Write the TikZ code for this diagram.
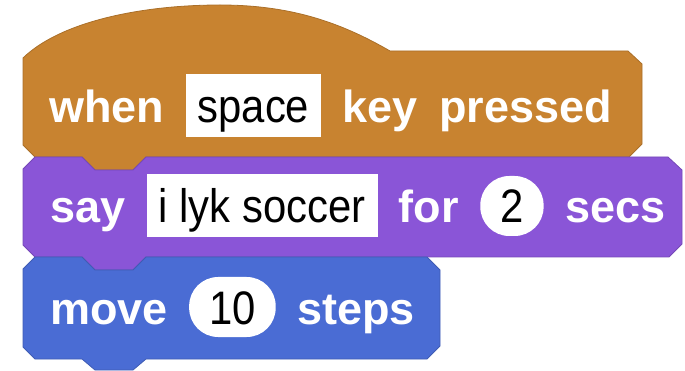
\documentclass[tikz,border=0pt]{standalone}
\usepackage{fontspec}
\setmainfont{Liberation Sans}
\usetikzlibrary{positioning}

\definecolor{eventsorange}{HTML}{C88330}
\definecolor{looksviolet}{HTML}{8A55D7}
\definecolor{motionblue}{HTML}{4A6CD4}

% input text: a touch taller and narrower than the labels
\newcommand{\fieldfont}{\fontsize{47}{47}\selectfont\addfontfeature{FakeStretch=0.89}}

\begin{document}
\begin{tikzpicture}[
    x=1pt, y=-1pt, node distance=21pt,
    every node/.style={inner sep=0pt, text height=42pt, text depth=8pt},
    word/.style={font=\bfseries\fontsize{45}{45}\selectfont, text=white},
    field/.style={fill=white, font=\fieldfont, minimum height=63pt, inner xsep=12pt},
    slot/.style={fill=white, rounded corners=29pt, font=\fieldfont, minimum width=62pt, minimum height=60pt, inner xsep=20pt},
    block/.style={line width=0.8pt, line join=round}
  ]
  \useasboundingbox (0,0) rectangle (685,371);

  % hat block
  \filldraw[block, fill=eventsorange, draw=eventsorange!85!black]
    (23,58) .. controls (60,22) and (140,5) .. (220,5)
    .. controls (290,5) and (340,22) .. (390,51) -- (628,51) -- (642,64)
    -- (642,144) -- (629,157) -- (146,157) -- (133,170) -- (95,170) -- (82,157)
    -- (35,157) -- (23,145) -- cycle;
  % say block
  \filldraw[block, fill=looksviolet, draw=looksviolet!85!black]
    (35,157) -- (82,157) -- (95,170) -- (133,170) -- (146,157) -- (668,157) -- (682,170)
    -- (682,244) -- (669,257) -- (146,257) -- (133,270) -- (95,270) -- (82,257)
    -- (35,257) -- (23,245) -- (23,169) -- cycle;
  % move block
  \filldraw[block, fill=motionblue, draw=motionblue!85!black]
    (35,257) -- (82,257) -- (95,270) -- (133,270) -- (146,257) -- (427,257) -- (440,270)
    -- (440,346) -- (427,359) -- (146,359) -- (133,370) -- (95,370) -- (82,359)
    -- (35,359) -- (23,347) -- (23,269) -- cycle;

  \node[word, anchor=base west] (when) at (49,123) {when};
  \node[field, right=of when]   (key)   {space};
  \node[word, right=of key]     (kw)    {key};
  \node[word, right=of kw]      (press) {pressed};

  \node[word, anchor=base west] (say) at (50,223) {say};
  \node[field, right=of say]    (msg)  {i lyk soccer};
  \node[word, right=of msg]     (for)  {for};
  \node[slot, right=of for]     (secs) {2};
  \node[word, right=of secs]    (sw)   {secs};

  \node[word, anchor=base west] (move) at (50,324) {move};
  \node[slot, right=of move]    (num)  {10};
  \node[word, right=of num]     (steps) {steps};
\end{tikzpicture}
\end{document}
